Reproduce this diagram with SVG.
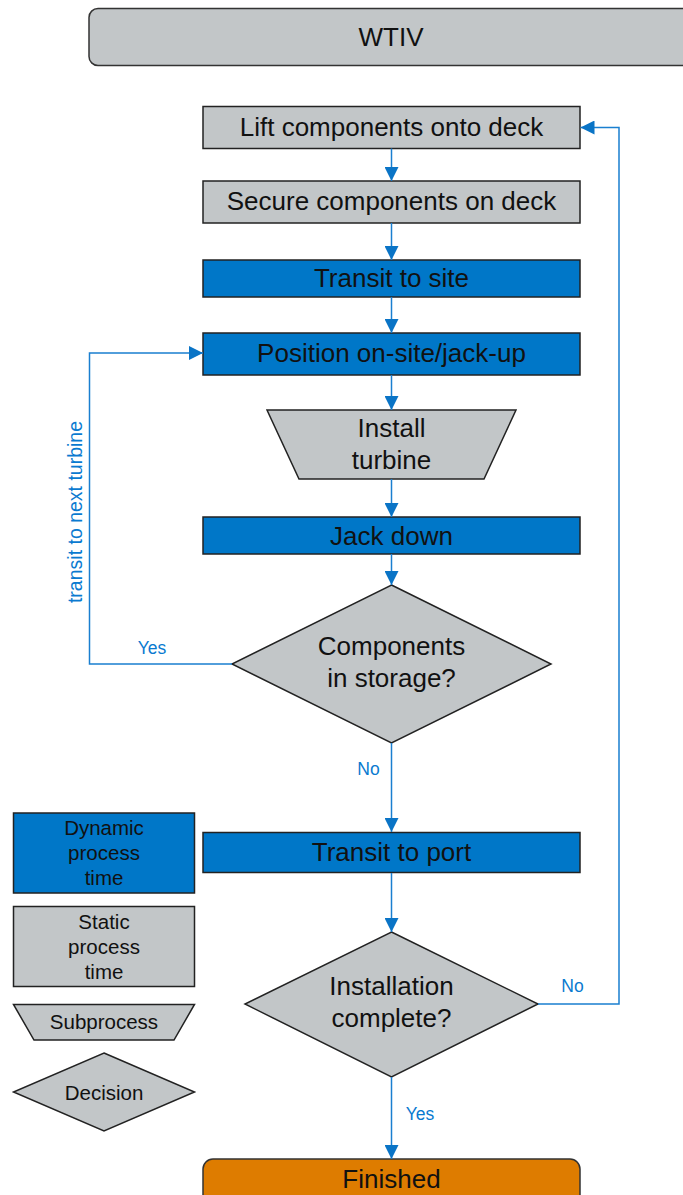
<svg xmlns="http://www.w3.org/2000/svg" width="683" height="1195" viewBox="0 0 683 1195">
<style>
.g{fill:#c2c6c8;stroke:#222;stroke-width:1.5}
.b{fill:#0077c8;stroke:#222;stroke-width:1.5}
.o{fill:#de7c00;stroke:#333;stroke-width:1.5}
.t{font-family:"Liberation Sans",Arial,sans-serif;font-size:26px;fill:#111;text-anchor:middle}
.l{font-family:"Liberation Sans",Arial,sans-serif;font-size:20.5px;fill:#111;text-anchor:middle}
.c{font-family:"Liberation Sans",Arial,sans-serif;font-size:17.5px;fill:#0a7ad0;text-anchor:middle}
.e{fill:none;stroke:#1a7fd0;stroke-width:1.5}
</style>
<defs>
<marker id="ah" markerUnits="userSpaceOnUse" markerWidth="14" markerHeight="14" refX="14" refY="7" orient="auto">
<path d="M0,0 L14,7 L0,14 z" fill="#0a74c6"/>
</marker>
</defs>
<rect width="683" height="1195" fill="#fff"/>
<g id="wtiv"><rect class="g" x="89" y="8.5" width="630" height="57" rx="9" style="stroke:#333"/><text class="t" x="391" y="46">WTIV</text></g>
<g id="lift"><rect class="g" x="203" y="106.5" width="377" height="42"/><text class="t" x="391.5" y="136">Lift components onto deck</text></g>
<g id="secure"><rect class="g" x="203" y="181" width="377" height="42"/><text class="t" x="391.5" y="210">Secure components on deck</text></g>
<g id="transit-site"><rect class="b" x="203" y="260" width="377" height="37"/><text class="t" x="391.5" y="287">Transit to site</text></g>
<g id="position"><rect class="b" x="203" y="333" width="377" height="42"/><text class="t" x="391.5" y="362">Position on-site/jack-up</text></g>
<g id="install"><polygon class="g" points="267,410 516,410 484,479 299,479"/><text class="t" x="391.5" y="437">Install</text><text class="t" x="391.5" y="469">turbine</text></g>
<g id="jackdown"><rect class="b" x="203" y="517" width="377" height="37"/><text class="t" x="391.5" y="545">Jack down</text></g>
<g id="storage"><polygon class="g" points="391.5,585 551,664 391.5,743 232,664"/><text class="t" x="391.5" y="655">Components</text><text class="t" x="391.5" y="687">in storage?</text></g>
<g id="transit-port"><rect class="b" x="203" y="832.5" width="377" height="40"/><text class="t" x="391.5" y="861">Transit to port</text></g>
<g id="complete"><polygon class="g" points="391.5,932 538,1004 391.5,1077 245,1004"/><text class="t" x="391.5" y="995">Installation</text><text class="t" x="391.5" y="1027">complete?</text></g>
<g id="finished"><rect class="o" x="203" y="1159" width="377" height="60" rx="10"/><text class="t" x="391.5" y="1188">Finished</text></g>
<g id="legend-dynamic"><rect class="b" x="13.5" y="813" width="181" height="80"/><text class="l" x="104" y="835">Dynamic</text><text class="l" x="104" y="860">process</text><text class="l" x="104" y="885">time</text></g>
<g id="legend-static"><rect class="g" x="13.5" y="906.5" width="181" height="80"/><text class="l" x="104" y="929">Static</text><text class="l" x="104" y="954">process</text><text class="l" x="104" y="979">time</text></g>
<g id="legend-subprocess"><polygon class="g" points="13.5,1004.5 194.5,1004.5 174,1040 34,1040"/><text class="l" x="104" y="1029">Subprocess</text></g>
<g id="legend-decision"><polygon class="g" points="104,1053 194.5,1092 104,1131 13.5,1092"/><text class="l" x="104" y="1100">Decision</text></g>
<g id="connectors">
<path class="e" d="M391.5,148.5 V181" marker-end="url(#ah)"/>
<path class="e" d="M391.5,223 V260" marker-end="url(#ah)"/>
<path class="e" d="M391.5,297 V333" marker-end="url(#ah)"/>
<path class="e" d="M391.5,375 V410" marker-end="url(#ah)"/>
<path class="e" d="M391.5,479 V517" marker-end="url(#ah)"/>
<path class="e" d="M391.5,554 V585" marker-end="url(#ah)"/>
<path class="e" d="M391.5,743 V832" marker-end="url(#ah)"/>
<path class="e" d="M391.5,873 V932" marker-end="url(#ah)"/>
<path class="e" d="M391.5,1077 V1159" marker-end="url(#ah)"/>
<path class="e" d="M232,664 H89.5 V353 H203" marker-end="url(#ah)"/>
<path class="e" d="M538,1004 H619 V127.5 H580.5" marker-end="url(#ah)"/>
<text class="c" x="152" y="654">Yes</text>
<text class="c" x="368.5" y="775">No</text>
<text class="c" x="572.5" y="992">No</text>
<text class="c" x="420" y="1120">Yes</text>
<text class="c" x="0" y="0" transform="translate(82,512) rotate(-90)" style="font-size:19.5px">transit to next turbine</text>
</g>
</svg>
